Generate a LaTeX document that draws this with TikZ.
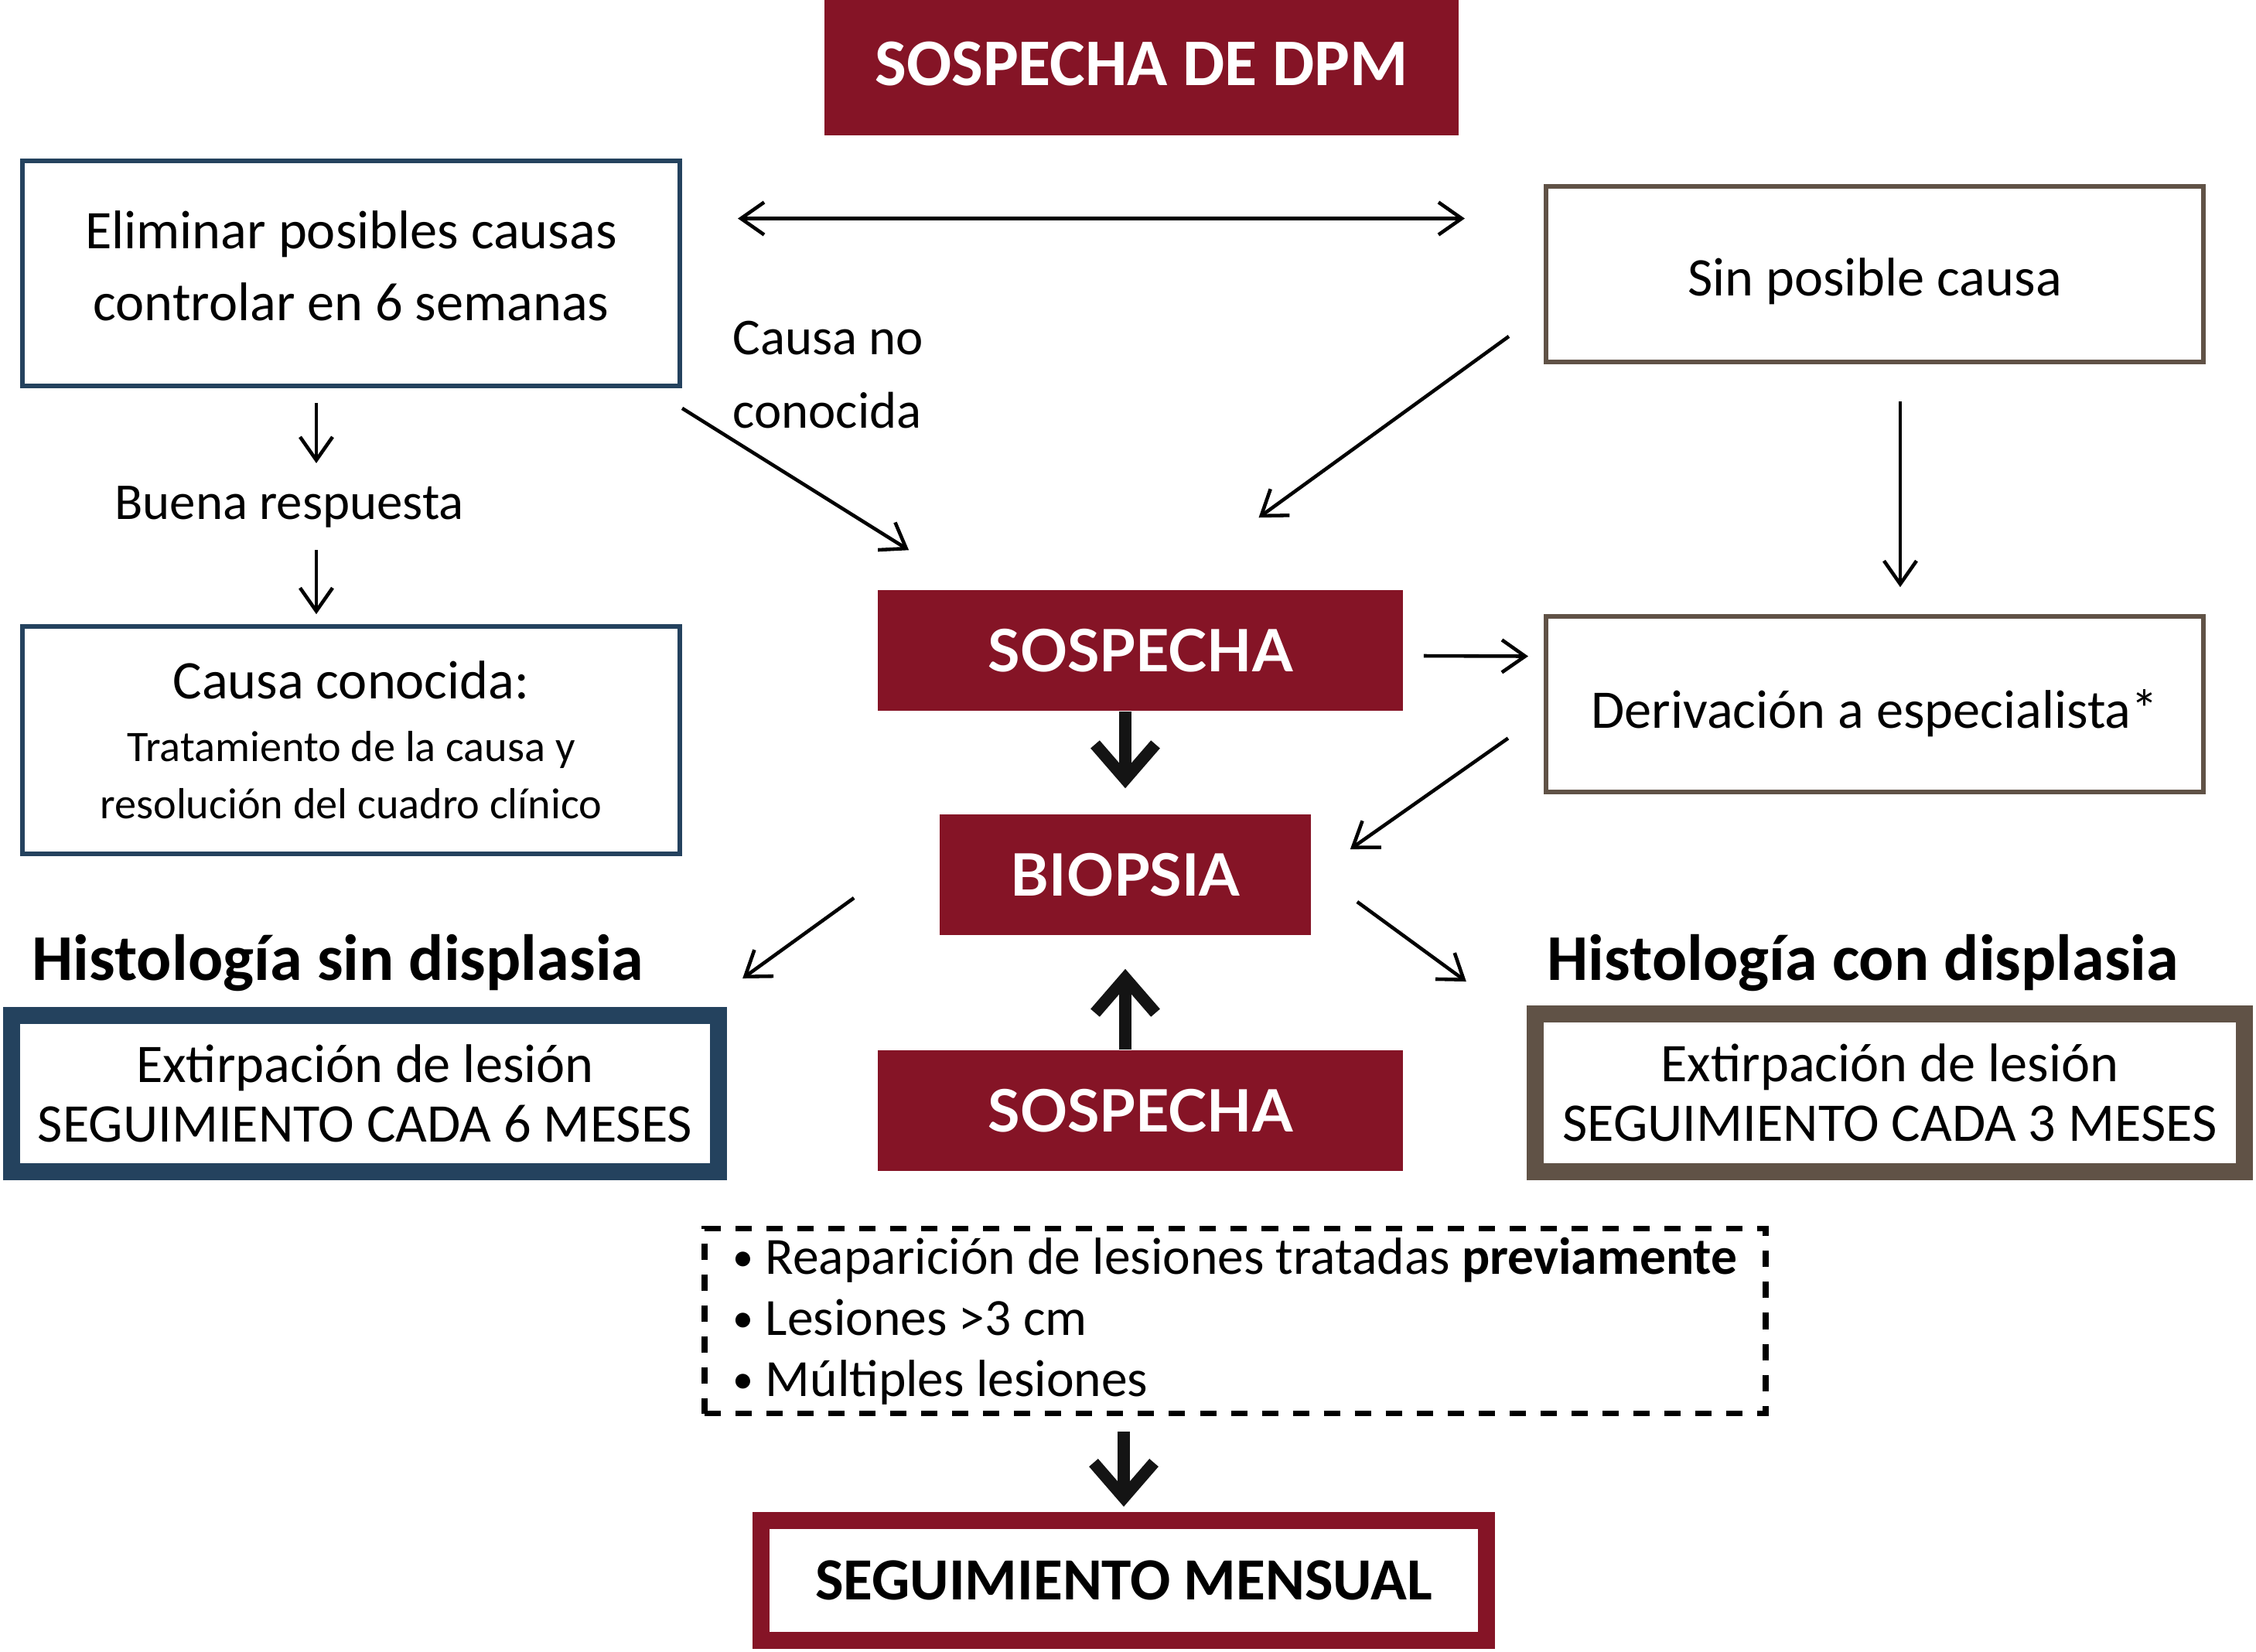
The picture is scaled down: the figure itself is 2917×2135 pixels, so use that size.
\documentclass[tikz,border=0pt]{standalone}
\usepackage{fontspec}
\setmainfont{Carlito}
\newfontfamily\latofont{Lato}
\usetikzlibrary{arrows.meta,calc,positioning}
\definecolor{granate}{RGB}{133,20,38}
\definecolor{azul}{RGB}{36,66,94}
\definecolor{marron}{RGB}{96,82,70}
\begin{document}
\begin{tikzpicture}[x=0.01cm,y=-0.01cm,>={Straight Barb[length=0.3cm,width=0.42cm]},
  rojo/.style={fill=granate,text=white,inner sep=0pt,minimum height=1.56cm,font=\latofont\bfseries\fontsize{21.5}{26}\selectfont},
  caja/.style={draw,line width=1.6pt,align=center,inner sep=0pt,font=\fontsize{20}{26.5}\selectfont},
  gruesa/.style={draw,line width=6.2pt,align=center,inner sep=0pt,font=\fontsize{20}{22}\selectfont},
  etiq/.style={inner sep=0pt,font=\fontsize{19}{27}\selectfont},
  fl/.style={->,line width=1.3pt},
  fg/.style={-{Straight Barb[length=0.45cm,width=0.78cm]},line width=4.4pt,black!92}]
\useasboundingbox (0,0) rectangle (2917,2135);
% cajas
\node[rojo,minimum width=8.2cm,minimum height=1.75cm,font=\bfseries\fontsize{24.5}{30}\selectfont] (dpm) at (1476,87.5) {\raisebox{1.5pt}[\height][\depth]{SOSPECHA DE DPM}};
\node[caja,draw=azul,minimum width=8.5cm,minimum height=2.91cm] (elim) at (454,353.5) {Eliminar posibles causas\\controlar en 6 semanas\\[-21pt]\mbox{}};
\node[caja,draw=marron,minimum width=8.5cm,minimum height=2.27cm] (sinc) at (2424,354.5) {\raisebox{-2.6pt}[\height][\depth]{Sin posible causa}};
\node[caja,draw=azul,minimum width=8.5cm,minimum height=2.94cm] (conoc) at (454,957) {Causa conocida:\\[-3.5pt]{\fontsize{16}{21}\selectfont Tratamiento de la causa y}\\[-5.5pt]{\fontsize{16}{21}\selectfont resolución del cuadro clínico}};
\node[caja,draw=marron,minimum width=8.5cm,minimum height=2.27cm] (deriv) at (2424,910.5) {\raisebox{-3.2pt}[\height][\depth]{Derivación a especialista*}};
\node[rojo,minimum width=6.79cm] (sosp1) at (1474.5,841) {SOSPECHA};
\node[rojo,minimum width=4.8cm] (biop) at (1455,1131) {BIOPSIA};
\node[rojo,minimum width=6.79cm] (sosp2) at (1474.5,1436) {SOSPECHA};
\node[gruesa,draw=azul,minimum width=9.14cm,minimum height=2.02cm] (seis) at (472,1414) {Extirpación de lesión\\SEGUIMIENTO CADA 6 MESES};
\node[gruesa,draw=marron,minimum width=9.17cm,minimum height=2.04cm] (tres) at (2443.5,1413) {Extirpación de lesión\\SEGUIMIENTO CADA 3 MESES};
\node[draw,line width=2.1pt,dash pattern=on 0.21cm off 0.19cm,inner sep=0pt,minimum width=13.71cm,minimum height=2.39cm,align=left,font=\fontsize{19.2}{22.5}\selectfont] (crit) at (1597,1708)
  {\raisebox{1.1pt}{\scalebox{0.8}{\textbullet}}\ Reaparición de lesiones tratadas \textbf{previamente}\\\raisebox{1.1pt}{\scalebox{0.8}{\textbullet}}\ Lesiones >3 cm\\\raisebox{1.1pt}{\scalebox{0.8}{\textbullet}}\ Múltiples lesiones};
\node[gruesa,draw=granate,minimum width=9.38cm,minimum height=1.55cm,font=\bfseries\fontsize{22}{26}\selectfont] (mens) at (1453,2043.5) {SEGUIMIENTO MENSUAL};
% textos sueltos
\node[etiq,anchor=west,align=left] (nocon) at (947,485) {Causa no\\conocida};
\node[etiq] (buena) at (374,655) {Buena respuesta};
\node[inner sep=0pt,anchor=west,font=\bfseries\fontsize{24}{28}\selectfont] (hsin) at (41,1245) {Histología sin displasia};
\node[inner sep=0pt,anchor=west,font=\bfseries\fontsize{24}{28}\selectfont] (hcon) at (2000,1245) {Histología con displasia};
% flechas
\draw[fl,<->] ($(elim.east)+(72,-71)$) -- ($(sinc.west)+(-102,-72)$);
\draw[fl] ($(elim.south east)+(0,26)$) -- ($(sosp1.north west)+(41,-51)$);
\draw[fl] ($(sinc.south west)+(-45,-36)$) -- ($(sosp1.north)+(153,-93)$);
\draw[fl] ($(elim.south)+(-45,19)$) -- ($(elim.south)+(-45,97)$);
\draw[fl] ($(conoc.north)+(-45,-96)$) -- ($(conoc.north)+(-45,-13)$);
\draw[fl] ($(sinc.south)+(33,48)$) -- ($(deriv.north)+(33,-35)$);
\draw[fl] ($(sosp1.east)+(26,7)$) -- ($(deriv.west)+(-20,-62)$);
\draw[fl] ($(deriv.west)+(-46,44)$) -- ($(biop.east)+(50,-33)$);
\draw[fl] ($(biop.west)+(-110,30)$) -- ($(seis.north east)+(20,-37)$);
\draw[fl] ($(biop.east)+(59,35)$) -- ($(tres.north west)+(-78,-31)$);
\draw[fg,shorten >=0.33cm] (biop.north |- sosp1.south) -- (biop.north);
\draw[fg,shorten >=0.43cm] (biop.south |- sosp2.north) -- (biop.south);
\draw[fg,shorten <=0.2cm,shorten >=0.07cm] (mens.north |- crit.south) -- (mens.north);
\end{tikzpicture}
\end{document}
